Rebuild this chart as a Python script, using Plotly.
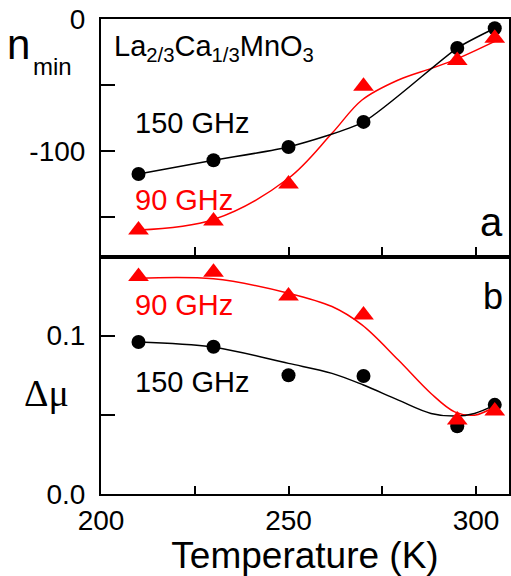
import plotly.graph_objects as go

# ---- data ----
temps = [210, 230, 250, 270, 295, 305]

# panel a: n_min
nmin_150 = [-117.5, -107, -97, -78, -22, -7]
nmin_90 = [-160, -153, -125, -51, -31.5, -14.5]
# smooth fit curve through 90 GHz data (panel a)
fit_a90_T = [210, 230, 250, 261.6, 269.6, 279.3, 288.1, 294.3, 305]
fit_a90_v = [-160, -152, -120.7, -86.6, -61.4, -46.2, -37.4, -31, -17]

# panel b: delta mu
dmu_150 = [0.096, 0.093, 0.075, 0.0745, 0.0428, 0.0563]
dmu_90 = [0.1374, 0.140, 0.125, 0.113, 0.0467, 0.0525]
fit_b90_T = [210, 230, 250, 261.6, 269.6, 279.3, 288, 294.3, 299.6, 305]
fit_b90_v = [0.1363, 0.1359, 0.1268, 0.1184, 0.1068, 0.0846, 0.0635, 0.0519, 0.0498, 0.0551]
fit_b150_T = [210, 230, 250, 261.6, 270, 279.3, 288, 294.5, 299.6, 305]
fit_b150_v = [0.096, 0.0927, 0.0825, 0.0762, 0.0688, 0.0593, 0.0509, 0.0492, 0.0509, 0.0561]

x_ticks = [200, 250, 300]
x_ticklabels = ["200", "250", "300"]
ya_ticks = [0, -100]
ya_ticklabels = ["0", "-100"]
yb_ticks = [0.0, 0.1]
yb_ticklabels = ["0.0", "0.1"]

RED = "#ff0000"
BLACK = "#000000"
FONT = "Liberation Sans"

fig = go.Figure()

# panel a
fig.add_trace(go.Scatter(x=fit_a90_T, y=fit_a90_v, mode="lines",
                         line=dict(color=RED, width=1.5, shape="spline"),
                         xaxis="x", yaxis="y", showlegend=False))
fig.add_trace(go.Scatter(x=temps, y=nmin_150, mode="lines+markers",
                         line=dict(color=BLACK, width=1.5, shape="spline", smoothing=0.6),
                         marker=dict(symbol="circle", size=14, color=BLACK),
                         xaxis="x", yaxis="y", showlegend=False))
fig.add_trace(go.Scatter(x=temps, y=nmin_90, mode="markers",
                         marker=dict(symbol="triangle-up", size=18, color=RED),
                         xaxis="x", yaxis="y", showlegend=False))

# panel b
fig.add_trace(go.Scatter(x=fit_b90_T, y=fit_b90_v, mode="lines",
                         line=dict(color=RED, width=1.5, shape="spline"),
                         xaxis="x2", yaxis="y2", showlegend=False))
fig.add_trace(go.Scatter(x=fit_b150_T, y=fit_b150_v, mode="lines",
                         line=dict(color=BLACK, width=1.5, shape="spline"),
                         xaxis="x2", yaxis="y2", showlegend=False))
fig.add_trace(go.Scatter(x=temps, y=dmu_150, mode="markers",
                         marker=dict(symbol="circle", size=14, color=BLACK),
                         xaxis="x2", yaxis="y2", showlegend=False))
fig.add_trace(go.Scatter(x=temps, y=dmu_90, mode="markers",
                         marker=dict(symbol="triangle-up", size=18, color=RED),
                         xaxis="x2", yaxis="y2", showlegend=False))

axis_common = dict(showline=True, linecolor=BLACK, linewidth=2, mirror=True,
                   ticks="inside", tickcolor=BLACK, tickwidth=2,
                   showgrid=False, zeroline=False,
                   tickfont=dict(family=FONT, size=28, color=BLACK))

def minor(d, length):
    return dict(ticks="inside", ticklen=length, tickwidth=2, tickcolor=BLACK, dtick=d, showgrid=False)

XR = [200, 308.8]
fig.update_layout(
    width=511, height=576,
    margin=dict(l=101, r=0, t=19, b=82),
    paper_bgcolor="white", plot_bgcolor="white",
    font=dict(family=FONT, color=BLACK),
    xaxis=dict(axis_common, domain=[0, 1], anchor="y", range=XR,
               tickvals=x_ticks, showticklabels=False, ticklen=10, minor=minor(25, 10)),
    yaxis=dict(axis_common, domain=[0.5, 1], anchor="x", range=[-180, 0],
               tickvals=ya_ticks, ticktext=ya_ticklabels, ticklen=14, minor=minor(50, 14),
               ticklabelstandoff=8),
    xaxis2=dict(axis_common, domain=[0, 1], anchor="y2", range=XR,
                tickvals=x_ticks, ticktext=x_ticklabels, ticklen=8, minor=minor(25, 8),
                title=dict(text="Temperature (K)", font=dict(family=FONT, size=37), standoff=7)),
    yaxis2=dict(axis_common, domain=[0, 0.5], anchor="x2", range=[0, 0.15],
                tickvals=yb_ticks, ticktext=yb_ticklabels, ticklen=14, minor=minor(0.05, 14),
                ticklabelstandoff=8),
)

def px2paper(px, py):
    return (px - 101) / 410.0, (494 - py) / 475.0

anns = []
def add_text(text, px, py, size, color=BLACK, xanchor="left", yanchor="middle", family=FONT):
    xp, yp = px2paper(px, py)
    anns.append(dict(text=text, x=xp, y=yp, xref="paper", yref="paper",
                     xanchor=xanchor, yanchor=yanchor, showarrow=False,
                     font=dict(family=family, size=size, color=color)))

add_text("n", 18, 44, 42, xanchor="center")
add_text("min", 52, 66, 24, xanchor="center")
add_text("Δμ", 46, 393, 38, xanchor="center", family="Liberation Serif")
add_text("La<sub>2/3</sub>Ca<sub>1/3</sub>MnO<sub>3</sub>", 112, 48, 29)
add_text("150 GHz", 133, 123, 29)
add_text("90 GHz", 133, 200, 29, color=RED)
add_text("90 GHz", 133, 305, 29, color=RED)
add_text("150 GHz", 133, 382, 29)
add_text("a", 493, 222, 40, xanchor="center")
add_text("b", 495, 296, 36, xanchor="center")

fig.update_layout(annotations=anns)

fig.write_html("out.html", config={"displayModeBar": False},
               post_script="document.body.style.margin='0';document.body.style.overflow='hidden';")
